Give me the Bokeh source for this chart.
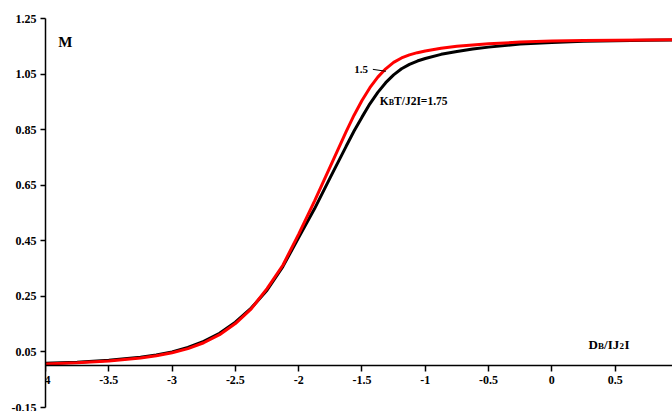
from bokeh.plotting import figure
from bokeh.models import FixedTicker, Label, Range1d
from bokeh.embed import file_html
from bokeh.resources import INLINE

# D_B/|J2| values
x_vals = [-4.0, -3.75, -3.5, -3.25, -3.125, -3.0, -2.875, -2.75, -2.625, -2.5, -2.375,
          -2.25, -2.125, -2.0, -1.875, -1.75, -1.625, -1.5625, -1.5, -1.4375, -1.375,
          -1.3125, -1.25, -1.1875, -1.125, -1.0625, -1.0, -0.875, -0.75, -0.625, -0.5,
          -0.25, 0.0, 0.25, 0.5, 0.75, 1.0]

# Magnetization for kBT/|J2| = 1.5 (red)
m_t150 = [0.007, 0.011, 0.017, 0.028, 0.036, 0.047, 0.062, 0.083, 0.112, 0.152, 0.205,
          0.278, 0.362, 0.474, 0.593, 0.718, 0.843, 0.902, 0.955, 1.001, 1.039,
          1.069, 1.092, 1.108, 1.119, 1.127, 1.133, 1.143, 1.150, 1.155, 1.159,
          1.165, 1.169, 1.171, 1.172, 1.173, 1.174]

# Magnetization for kBT/|J2| = 1.75 (black)
m_t175 = [0.009, 0.013, 0.020, 0.031, 0.039, 0.050, 0.066, 0.088, 0.117, 0.157, 0.208,
          0.272, 0.357, 0.462, 0.565, 0.678, 0.790, 0.845, 0.895, 0.943, 0.984,
          1.019, 1.047, 1.069, 1.085, 1.097, 1.106, 1.121, 1.131, 1.140, 1.147,
          1.158, 1.164, 1.168, 1.170, 1.172, 1.173]

x_ticks = [-4, -3.5, -3, -2.5, -2, -1.5, -1, -0.5, 0, 0.5]
x_tick_labels = ["-4", "-3.5", "-3", "-2.5", "-2", "-1.5", "-1", "-0.5", "0", "0.5"]
y_ticks = [-0.15, 0.05, 0.25, 0.45, 0.65, 0.85, 1.05, 1.25]
y_tick_labels = ["-0.15", "0.05", "0.25", "0.45", "0.65", "0.85", "1.05", "1.25"]

FONT = "Liberation Serif"

p = figure(width=672, height=411, output_backend="svg", toolbar_location=None,
           x_range=Range1d(-4, 0.953), y_range=Range1d(-0.15, 1.25),
           min_border_left=45, min_border_right=0, min_border_top=18, min_border_bottom=4)
p.outline_line_color = None
p.grid.visible = False
p.background_fill_color = "white"
p.border_fill_color = "white"

p.line(x_vals, m_t175, color="black", line_width=3)
p.line(x_vals, m_t150, color="#ff0000", line_width=3)

xa = p.xaxis[0]
xa.fixed_location = 0
xa.ticker = FixedTicker(ticks=x_ticks)
xa.major_label_overrides = {float(t): l for t, l in zip(x_ticks, x_tick_labels)}
xa.axis_line_color = "black"
xa.axis_line_width = 1.5
xa.major_tick_line_width = 1.5
xa.major_tick_out = 6
xa.major_tick_in = 0
xa.minor_tick_out = 0
xa.minor_tick_in = 0
xa.major_label_standoff = 4
xa.major_label_text_font = FONT
xa.major_label_text_font_style = "bold"
xa.major_label_text_font_size = "12px"
xa.major_label_text_color = "black"

ya = p.yaxis[0]
ya.ticker = FixedTicker(ticks=y_ticks)
ya.major_label_overrides = {float(t): l for t, l in zip(y_ticks, y_tick_labels)}
ya.axis_line_color = "black"
ya.axis_line_width = 1.5
ya.major_tick_line_width = 1.5
ya.major_tick_out = 5
ya.major_tick_in = 0
ya.minor_tick_out = 0
ya.minor_tick_in = 0
ya.major_label_standoff = 4
ya.major_label_text_font = FONT
ya.major_label_text_font_style = "bold"
ya.major_label_text_font_size = "12px"
ya.major_label_text_color = "black"


def lab(x, y, text, size, dx=0, dy=0, align="left"):
    p.add_layout(Label(x=x, y=y, x_offset=dx, y_offset=dy, text=text, text_font=FONT,
                       text_font_style="bold", text_font_size=size,
                       text_color="black", text_baseline="middle",
                       text_align=align))


# axis titles
lab(-3.90, 1.164, "M", "15px")
lab(0.29, 0.076, "D", "13px")
lab(0.29, 0.076, "B", "9px", dx=9.5, dy=-1.5)
lab(0.29, 0.076, "/IJ", "13px", dx=15.5)
lab(0.29, 0.076, "2", "9px", dx=31, dy=-1.5)
lab(0.29, 0.076, "I", "13px", dx=36)

# curve annotations
lab(-1.453, 1.068, "1.5", "11px", align="right")
p.segment(x0=[-1.414], y0=[1.067], x1=[-1.311], y1=[1.060], color="black", line_width=1)
lab(-1.359, 0.954, "K", "11.5px")
lab(-1.359, 0.954, "B", "8px", dx=8.9, dy=-1.3)
lab(-1.359, 0.954, "T/J2I=1.75", "11.5px", dx=14.2)

open("out.html", "w").write(file_html(p, INLINE))
